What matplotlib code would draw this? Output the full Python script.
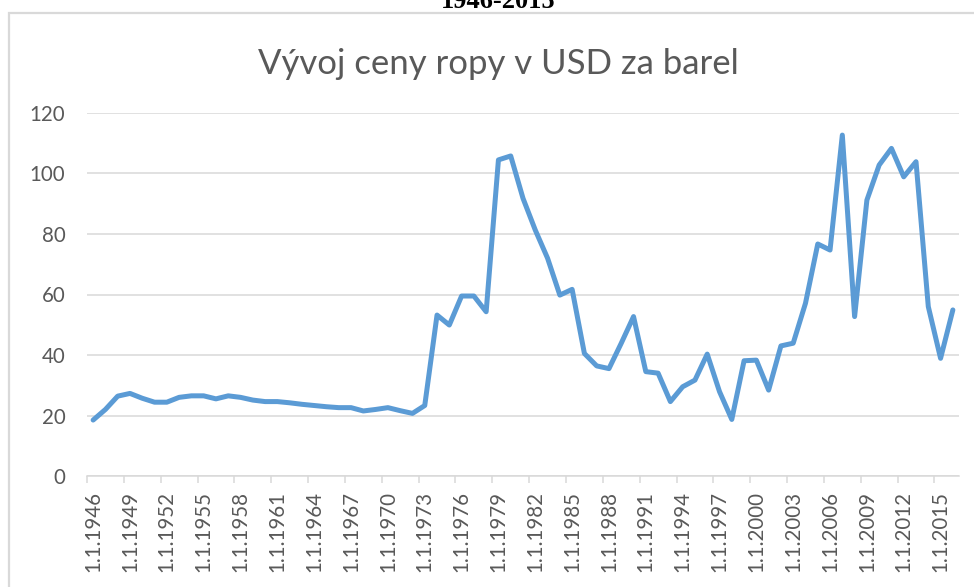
import matplotlib
matplotlib.use("Agg")
import matplotlib.pyplot as plt
from matplotlib.patches import Rectangle
from matplotlib.ticker import FixedLocator, FixedFormatter

# ---- data ----
years = list(range(1946, 2017))
prices = [18.5, 22.0, 26.4, 27.3, 25.7, 24.4, 24.4, 26.0, 26.5, 26.5,
          25.5, 26.5, 26.0, 25.1, 24.6, 24.6, 24.2, 23.7, 23.3, 22.9,
          22.6, 22.6, 21.5, 22.0, 22.6, 21.6, 20.7, 23.3, 53.2, 49.9,
          59.5, 59.5, 54.3, 104.5, 105.8, 91.8, 81.3, 72.0, 59.8, 61.7,
          40.5, 36.4, 35.5, 43.9, 52.7, 34.5, 34.0, 24.6, 29.5, 31.7,
          40.3, 27.9, 18.7, 38.1, 38.3, 28.4, 43.0, 43.9, 57.1, 76.7,
          74.7, 112.7, 52.7, 91.2, 102.8, 108.3, 98.9, 103.9, 56.0, 38.9,
          54.9]
y_ticks = [0, 20, 40, 60, 80, 100, 120]
label_step = 3
title = "Vývoj ceny ropy v USD za barel"
caption = "1946-2015"

# ---- styling ----
W, H = 974, 587
LINE = "#5B9BD5"
GRID = "#D9D9D9"
TXT = "#595959"
FONT = ["Lato", "DejaVu Sans"]

fig = plt.figure(figsize=(W / 100, H / 100), dpi=100)
fig.patch.set_facecolor("white")

# chart border (extends beyond right/bottom edge)
fig.patches.append(Rectangle((9 / W, -0.1), 1.2, 1 - 13 / H + 0.1,
                             transform=fig.transFigure, fill=False,
                             edgecolor=GRID, linewidth=1.6, clip_on=False))

ax = fig.add_axes([87 / W, 1 - 476 / H, (959 - 87) / W, (476 - 113) / H])
x = list(range(len(years)))
ax.plot(x, prices, color=LINE, linewidth=3.6, solid_joinstyle="round",
        solid_capstyle="round", zorder=3, clip_on=False)

ax.set_xlim(-0.5, len(years) - 0.5)
ax.set_ylim(y_ticks[0], y_ticks[-1])

# y axis
ax.set_yticks(y_ticks)
ax.set_yticklabels([str(v) for v in y_ticks])
ax.yaxis.grid(True, color=GRID, linewidth=1.1)
ax.tick_params(axis="y", length=0, pad=15.5, labelsize=14.8, labelcolor=TXT)

# x axis: ticks at category boundaries, labels at category centres
lab_idx = list(range(0, len(years), label_step))
lab_idx = [i for i in lab_idx if years[i] <= 2015]
ax.xaxis.set_major_locator(FixedLocator([i - 0.5 for i in lab_idx]))
ax.xaxis.set_major_formatter(FixedFormatter([""] * len(lab_idx)))
ax.xaxis.set_minor_locator(FixedLocator(lab_idx))
ax.xaxis.set_minor_formatter(FixedFormatter([f"1.1.{years[i]}" for i in lab_idx]))
ax.tick_params(axis="x", which="major", length=5, width=1.1, color=GRID)
ax.tick_params(axis="x", which="minor", length=0, pad=11, labelsize=14.8,
               labelcolor=TXT, labelrotation=90)

for lab in ax.get_xticklabels(minor=True) + ax.get_yticklabels():
    lab.set_fontfamily(FONT)

for s in ["top", "right", "left"]:
    ax.spines[s].set_visible(False)
ax.spines["bottom"].set_color(GRID)
ax.spines["bottom"].set_linewidth(1.1)
ax.set_axisbelow(True)

# titles
fig.text(498 / W, 1 - 74 / H, title, ha="center", va="baseline",
         fontsize=25, color=TXT, family=FONT, fontweight="normal")
fig.text(498 / W, 1 - 8 / H, caption, ha="center", va="baseline",
         fontsize=19, color="black", family=["Liberation Serif", "DejaVu Serif"],
         fontweight="bold")

fig.savefig("out.png", dpi=100, facecolor="white")
